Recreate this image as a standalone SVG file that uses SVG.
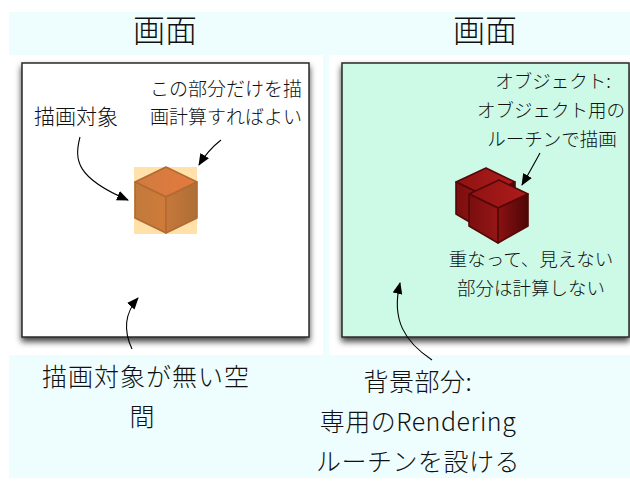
<svg xmlns="http://www.w3.org/2000/svg" width="630" height="481" viewBox="0 0 630 481">
  <style>
    .band { fill: #eefefe; }
    .frame { stroke: #2a2a2a; stroke-width: 1.5; }
    .title { font-family: "Noto Sans CJK JP", "Liberation Sans", sans-serif; font-weight: 300; font-size: 32px; fill: #111; text-anchor: middle; }
    .note { font-family: "Noto Sans CJK JP", "Liberation Sans", sans-serif; font-weight: 300; fill: #111; text-anchor: middle; }
    .conn { fill: none; stroke: #000; stroke-width: 1.1; }
  </style>
  <defs>
    <filter id="drop" x="-10%" y="-10%" width="120%" height="125%">
      <feGaussianBlur in="SourceAlpha" stdDeviation="3"/>
      <feOffset dx="0" dy="4" result="b"/>
      <feComponentTransfer><feFuncA type="linear" slope="0.75"/></feComponentTransfer>
      <feMerge><feMergeNode/><feMergeNode in="SourceGraphic"/></feMerge>
    </filter>
    <marker id="head" viewBox="0 0 12 10" refX="11" refY="5" markerWidth="12" markerHeight="10" markerUnits="userSpaceOnUse" orient="auto">
      <path d="M0,0 L12,5 L0,10 z" fill="#000"/>
    </marker>
    <linearGradient id="orTop" x1="0" y1="0" x2="1" y2="0">
      <stop offset="0" stop-color="#cf7c40"/>
      <stop offset="1" stop-color="#e5793e"/>
    </linearGradient>
    <linearGradient id="orLeft" x1="0" y1="0" x2="1" y2="0">
      <stop offset="0" stop-color="#c17a3c"/>
      <stop offset="1" stop-color="#d07a3a"/>
    </linearGradient>
    <linearGradient id="orRight" x1="0" y1="0" x2="1" y2="0">
      <stop offset="0" stop-color="#c7783a"/>
      <stop offset="1" stop-color="#ad6e36"/>
    </linearGradient>
    <linearGradient id="rdTop" x1="0" y1="0" x2="1" y2="0">
      <stop offset="0" stop-color="#8e1212"/>
      <stop offset="1" stop-color="#b01c1c"/>
    </linearGradient>
    <linearGradient id="rdLeft" x1="0" y1="0" x2="1" y2="0">
      <stop offset="0" stop-color="#7a0e0e"/>
      <stop offset="1" stop-color="#961616"/>
    </linearGradient>
    <linearGradient id="rdRight" x1="0" y1="0" x2="1" y2="0">
      <stop offset="0" stop-color="#8a1212"/>
      <stop offset="1" stop-color="#4e0606"/>
    </linearGradient>
  </defs>

  <!-- page background -->
  <rect x="0" y="0" width="630" height="481" fill="#ffffff"/>
  <rect class="band" x="9" y="12" width="621" height="43"/>
  <rect class="band" x="9" y="355" width="621" height="123"/>
  <rect class="band" x="323" y="55" width="6" height="300"/>

  <!-- headings -->
  <g id="heading-left"><text class="title" x="165" y="42">画面</text></g>
  <g id="heading-right"><text class="title" x="485" y="42">画面</text></g>

  <!-- left screen: only the object region is computed -->
  <g id="screen-left">
    <rect class="frame" x="22" y="63" width="287" height="274" fill="#ffffff" filter="url(#drop)"/>
  </g>
  <g id="label-target">
    <text class="note" x="76" y="124" font-size="21">描画対象</text>
  </g>
  <g id="label-region">
    <text class="note" x="226" y="96" font-size="19">この部分だけを描</text>
    <text class="note" x="226" y="124" font-size="19">画計算すればよい</text>
  </g>
  <g id="object-orange">
    <rect x="134" y="167" width="63" height="67" fill="#ffe1a9"/>
    <g stroke="#b26a32" stroke-width="1.6" stroke-linejoin="round">
      <path d="M166,167 L197,182 L166,197 L135,182 Z" fill="url(#orTop)"/>
      <path d="M135,182 L166,197 L166,233 L135,218 Z" fill="url(#orLeft)"/>
      <path d="M166,197 L197,182 L197,218 L166,233 Z" fill="url(#orRight)"/>
    </g>
  </g>

  <!-- right screen: objects drawn by their own routine -->
  <g id="screen-right">
    <rect class="frame" x="342" y="63" width="287" height="274" fill="#ccfae6" filter="url(#drop)"/>
  </g>
  <g id="label-object">
    <text class="note" x="553" y="88" font-size="18.5">オブジェクト:</text>
    <text class="note" x="551" y="117" font-size="18.5">オブジェクト用の</text>
    <text class="note" x="552" y="146" font-size="18.5">ルーチンで描画</text>
  </g>
  <g id="label-hidden">
    <text class="note" x="531" y="266" font-size="18.5">重なって、見えない</text>
    <text class="note" x="531" y="295" font-size="18.5">部分は計算しない</text>
  </g>
  <g id="object-red">
    <g stroke="#560707" stroke-width="1.6" stroke-linejoin="round">
      <path d="M486,168 L515,182 L485,196 L456,182 Z" fill="url(#rdTop)"/>
      <path d="M456,182 L485,196 L485,231 L456,214 Z" fill="url(#rdLeft)"/>
      <path d="M485,196 L515,182 L515,214 L485,231 Z" fill="url(#rdRight)"/>
    </g>
    <g stroke="#560707" stroke-width="1.6" stroke-linejoin="round">
      <path d="M499,180 L528,194 L498,208 L469,194 Z" fill="url(#rdTop)"/>
      <path d="M469,194 L498,208 L498,243 L469,226 Z" fill="url(#rdLeft)"/>
      <path d="M498,208 L528,194 L528,226 L498,243 Z" fill="url(#rdRight)"/>
    </g>
  </g>

  <!-- captions below the screens -->
  <g id="label-empty">
    <text class="note" x="146" y="386" font-size="25" letter-spacing="1">描画対象が無い空</text>
    <text class="note" x="142" y="426" font-size="25">間</text>
  </g>
  <g id="label-background">
    <text class="note" x="418" y="391" font-size="25" letter-spacing="0.5">背景部分:</text>
    <text class="note" x="418" y="431" font-size="25" letter-spacing="0.5">専用のRendering</text>
    <text class="note" x="418" y="471" font-size="25" letter-spacing="0.5">ルーチンを設ける</text>
  </g>

  <!-- connectors -->
  <g id="connectors">
    <path class="conn" d="M80,137 C74,160 76,178 128,200" marker-end="url(#head)"/>
    <path class="conn" d="M221,140 C212,147 205,155 199,165" marker-end="url(#head)"/>
    <path class="conn" d="M132,349 C124,332 124,314 138,298" marker-end="url(#head)"/>
    <path class="conn" d="M540,153 C535,162 529,173 522,185" marker-end="url(#head)"/>
    <path class="conn" d="M432,360 C405,342 391,320 400,283" marker-end="url(#head)"/>
  </g>
</svg>
